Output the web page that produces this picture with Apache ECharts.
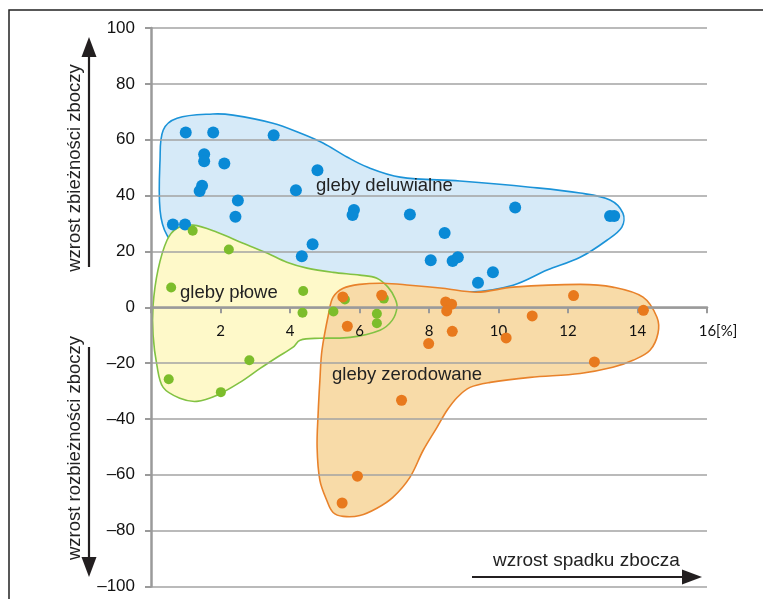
<!DOCTYPE html>
<html>
<head>
<meta charset="utf-8">
<title>Gleby a kształt zboczy</title>
<script src="https://cdn.jsdelivr.net/npm/echarts/dist/echarts.min.js"></script>
<style>
  html, body { margin: 0; padding: 0; background: #ffffff; }
  #chart { width: 763px; height: 599px; }
</style>
</head>
<body>
<div id="chart"></div>
<script>
// Axis ranges (x: slope gradient in %, y: slope curvature)
const xTicks = [0, 2, 4, 6, 8, 10, 12, 14, 16];
const yTicks = [-100, -80, -60, -40, -20, 0, 20, 40, 60, 80, 100];

// Measurement points per soil group: [slope %, curvature]
const deluwialne = [
  [1.00, 62.6], [1.79, 62.6], [3.53, 61.6], [1.53, 54.8], [1.53, 52.3],
  [2.11, 51.5], [4.79, 49.1], [1.47, 43.5], [1.40, 41.6], [2.50, 38.2],
  [4.17, 41.9], [2.43, 32.4], [0.63, 29.6], [0.98, 29.6], [4.65, 22.6],
  [4.34, 18.3], [5.84, 34.8], [5.80, 33.0], [7.45, 33.2], [10.48, 35.7],
  [13.21, 32.7], [13.33, 32.7], [8.45, 26.6], [8.05, 16.8], [8.68, 16.6],
  [8.83, 17.9], [9.84, 12.5], [9.41, 8.8]
];
const plowe = [
  [1.20, 27.4], [2.24, 20.7], [0.58, 7.1], [4.38, 5.8], [4.36, -2.0],
  [5.25, -1.5], [5.58, 2.8], [6.50, -2.3], [6.50, -5.7], [6.70, 3.1],
  [2.83, -19.0], [0.51, -25.8], [2.01, -30.4]
];
const zerodowane = [
  [5.52, 3.7], [6.64, 4.3], [5.65, -6.8], [8.48, 1.9], [8.65, 1.1],
  [8.51, -1.3], [8.67, -8.6], [7.99, -13.0], [10.97, -3.1], [10.22, -11.0],
  [14.17, -1.1], [12.76, -19.6], [7.21, -33.3], [12.16, 4.2], [5.94, -60.5],
  [5.50, -70.1]
];

// Outlines of the soil-group fields, in the same data units
const deluwialneOutline = [
  [0.26, 34.8], [0.26, 52.7], [0.35, 63.4], [0.75, 67.7], [1.78, 69.2],
  [2.36, 68.8], [3.51, 65.9], [4.29, 62.4], [4.95, 58.8], [5.64, 53.8],
  [6.22, 50.2], [7.17, 46.6], [8.89, 45.2], [10.91, 43.0], [12.35, 40.9],
  [13.21, 38.4], [13.58, 33.7], [13.55, 28.7], [13.12, 24.0], [12.35, 17.9],
  [11.40, 13.3], [10.42, 7.9], [9.18, 5.4], [7.17, 5.4], [5.44, 6.8],
  [3.14, 9.7], [1.12, 16.1], [0.46, 25.8]
];
const ploweOutline = [
  [0.06, -10.0], [0.06, 0.7], [0.20, 13.3], [0.46, 24.0], [0.75, 28.3],
  [1.21, 29.4], [1.90, 26.9], [2.65, 22.9], [3.34, 19.4], [3.91, 16.1],
  [4.49, 14.0], [5.24, 12.5], [6.01, 11.5], [6.50, 10.4], [6.82, 7.2],
  [7.02, 3.2], [7.08, 0.0], [6.94, -4.7], [6.59, -8.2], [5.73, -10.8],
  [4.86, -11.1], [4.29, -11.8], [4.09, -14.3], [3.63, -17.9], [3.14, -21.9],
  [2.56, -26.9], [1.90, -31.5], [1.32, -33.7], [0.83, -32.6], [0.35, -28.7],
  [0.17, -20.8]
];
const zerodowaneOutline = [
  [5.24, 3.6], [5.53, 6.8], [6.01, 8.2], [6.68, 8.6], [7.45, 7.9],
  [8.40, 6.8], [9.38, 5.4], [10.42, 7.2], [12.35, 8.2], [13.29, 7.2],
  [14.16, 3.6], [14.56, -3.6], [14.59, -9.3], [14.36, -15.4], [13.87, -19.0],
  [13.29, -21.5], [12.35, -23.7], [10.91, -25.1], [9.76, -26.9], [9.18, -28.7],
  [8.81, -32.3], [8.52, -36.9], [8.23, -43.0], [7.83, -51.3], [7.45, -60.9],
  [6.96, -68.1], [6.50, -72.0], [6.01, -74.6], [5.53, -74.9], [5.24, -73.5],
  [5.06, -69.2], [4.86, -62.0], [4.78, -50.2], [4.81, -38.0], [4.86, -26.2],
  [4.92, -15.4], [5.12, -1.8]
];

const colors = {
  blue:   { dot: '#0a8ad6', line: '#1b93d8', fill: '#d6eaf8' },
  green:  { dot: '#7cbd2b', line: '#82c243', fill: '#fef9c9' },
  orange: { dot: '#e8791d', line: '#e8822b', fill: '#f8dba8' }
};

const sans = '"Liberation Sans", Arial, sans-serif';
const W = 763, H = 599;
const grid = { left: 151, right: 56, top: 28, bottom: 12.5 };
const yMin = yTicks[0], yMax = yTicks[yTicks.length - 1];
// the horizontal axis runs along y = 0
const plotH = H - grid.top - grid.bottom;
const xAxisOffset = -plotH * (0 - yMin) / (yMax - yMin);

const chart = echarts.init(document.getElementById('chart'), null, { renderer: 'canvas' });

function dash(v) { return v < 0 ? '\u2013' + Math.abs(v) : String(v); }

// Fields: blue first (with its outline underneath the others), then the
// green and orange fills, then the green and orange outlines on top.
function renderFields(params, api) {
  const toPx = pts => pts.map(p => api.coord(p));
  const sm = 0.35;
  const blue = toPx(deluwialneOutline), green = toPx(ploweOutline), orange = toPx(zerodowaneOutline);
  return {
    type: 'group',
    children: [
      { type: 'polygon', shape: { points: blue, smooth: sm },
        style: { fill: colors.blue.fill, stroke: colors.blue.line, lineWidth: 1.6 } },
      { type: 'polygon', shape: { points: green, smooth: sm },
        style: { fill: colors.green.fill, stroke: null } },
      { type: 'polygon', shape: { points: orange, smooth: sm },
        style: { fill: colors.orange.fill, stroke: null } },
      { type: 'polygon', shape: { points: green, smooth: sm },
        style: { fill: null, stroke: colors.green.line, lineWidth: 1.6 } },
      { type: 'polygon', shape: { points: orange, smooth: sm },
        style: { fill: null, stroke: colors.orange.line, lineWidth: 1.6 } }
    ]
  };
}

const arrowColor = '#231f20';
const axisGray = '#9a9a9a';

chart.setOption({
  animation: false,
  backgroundColor: '#ffffff',
  grid: Object.assign({ containLabel: false, outerBoundsMode: 'none' }, grid),
  xAxis: {
    type: 'value', z: 2,
    min: xTicks[0], max: xTicks[xTicks.length - 1], interval: 2,
    offset: xAxisOffset,
    axisLine: { show: true, onZero: false, lineStyle: { color: axisGray, width: 2.5 } },
    axisTick: { show: true, length: 6, lineStyle: { color: axisGray, width: 2 } },
    splitLine: { show: false },
    axisLabel: {
      margin: 16, color: '#111', fontSize: 15, fontFamily: 'Lato, "Open Sans", sans-serif',
      formatter: function (v) {
        if (v === 0) return '';
        if (v === 16) return '{pad|}16[%]';
        return String(v);
      },
      rich: { pad: { width: 22 } }
    }
  },
  yAxis: {
    type: 'value', z: 1,
    min: yMin, max: yMax, interval: 20,
    axisLine: { show: true, onZero: false, lineStyle: { color: axisGray, width: 2.5 } },
    axisTick: { show: true, length: 6, lineStyle: { color: axisGray, width: 2 } },
    splitLine: { show: true, lineStyle: { color: '#a3a3a3', width: 1.5 } },
    axisLabel: { margin: 16, color: '#111', fontSize: 17, fontFamily: sans, formatter: dash }
  },
  series: [
    {
      type: 'custom', name: 'pola', coordinateSystem: 'cartesian2d',
      data: [[0, 0]], renderItem: renderFields, clip: false, silent: true, z: 0
    },
    {
      type: 'scatter', name: 'gleby deluwialne', data: deluwialne,
      symbolSize: 12, itemStyle: { color: colors.blue.dot, opacity: 1 }, z: 3
    },
    {
      type: 'scatter', name: 'gleby płowe', data: plowe,
      symbolSize: 10, itemStyle: { color: colors.green.dot, opacity: 1 }, z: 3
    },
    {
      type: 'scatter', name: 'gleby zerodowane', data: zerodowane,
      symbolSize: 11, itemStyle: { color: colors.orange.dot, opacity: 1 }, z: 4
    }
  ],
  graphic: [
    // frame
    { type: 'rect', z: -1, silent: true,
      shape: { x: 9, y: 10, width: 800, height: 700 },
      style: { fill: null, stroke: '#222', lineWidth: 1.5 } },
    // group labels
    { type: 'text', z: 10, left: 316, top: 176,
      style: { text: 'gleby deluwialne', font: '18.5px ' + sans, fill: '#222' } },
    { type: 'text', z: 10, left: 180, top: 283,
      style: { text: 'gleby płowe', font: '18.5px ' + sans, fill: '#222' } },
    { type: 'text', z: 10, left: 332, top: 365,
      style: { text: 'gleby zerodowane', font: '18.5px ' + sans, fill: '#222' } },
    // vertical axis names with arrows
    { type: 'text', z: 10, x: 75, y: 168, rotation: Math.PI / 2,
      style: { text: 'wzrost zbieżności zboczy', font: '18.5px ' + sans, fill: '#222',
               align: 'center', verticalAlign: 'middle' } },
    { type: 'line', z: 10, shape: { x1: 89, y1: 267, x2: 89, y2: 52 },
      style: { stroke: arrowColor, lineWidth: 2.2 } },
    { type: 'polygon', z: 10, shape: { points: [[89, 37], [81.5, 57], [96.5, 57]] },
      style: { fill: arrowColor } },
    { type: 'text', z: 10, x: 75, y: 448, rotation: Math.PI / 2,
      style: { text: 'wzrost rozbieżności zboczy', font: '18.5px ' + sans, fill: '#222',
               align: 'center', verticalAlign: 'middle' } },
    { type: 'line', z: 10, shape: { x1: 89, y1: 347, x2: 89, y2: 562 },
      style: { stroke: arrowColor, lineWidth: 2.2 } },
    { type: 'polygon', z: 10, shape: { points: [[89, 577], [81.5, 557], [96.5, 557]] },
      style: { fill: arrowColor } },
    // horizontal axis name with arrow
    { type: 'text', z: 10, left: 493, top: 551,
      style: { text: 'wzrost spadku zbocza', font: '19px ' + sans, fill: '#222' } },
    { type: 'line', z: 10, shape: { x1: 472, y1: 577, x2: 688, y2: 577 },
      style: { stroke: arrowColor, lineWidth: 2.2 } },
    { type: 'polygon', z: 10, shape: { points: [[702, 577], [682, 569.5], [682, 584.5]] },
      style: { fill: arrowColor } }
  ]
});
</script>
</body>
</html>
